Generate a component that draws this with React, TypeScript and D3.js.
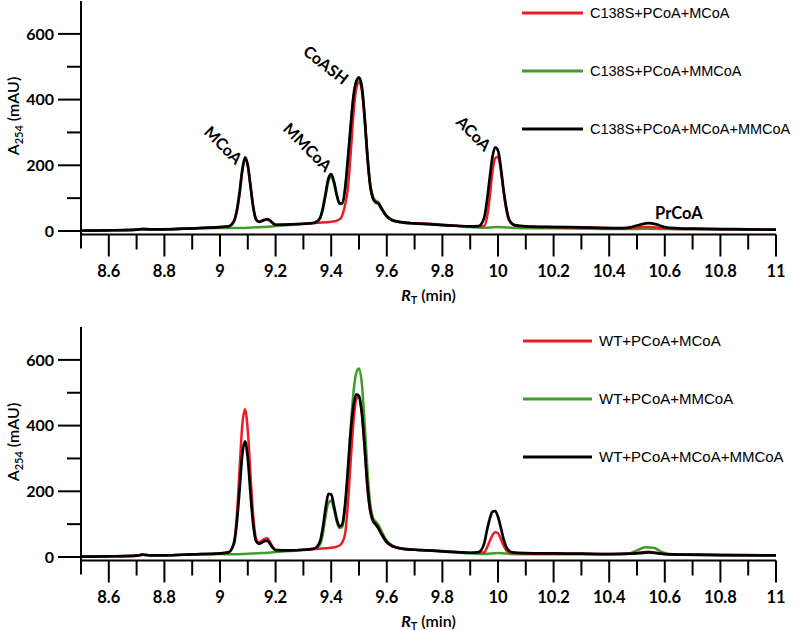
import React from "react";
import * as d3 from "d3";

type Pt = [number, number];

// ---- Top panel (C138S) ----
const topBlack: Pt[] = [
  [8.5, 1], [8.6, 2], [8.7, 4], [8.72, 6], [8.75, 5], [8.8, 5], [8.9, 8], [9.0, 12], [9.03, 14],
  [9.05, 30], [9.06, 60], [9.07, 115], [9.08, 185], [9.09, 224], [9.1, 200], [9.11, 135], [9.12, 70],
  [9.13, 35], [9.14, 28], [9.16, 34], [9.17, 36], [9.18, 32], [9.19, 24], [9.2, 19], [9.25, 20],
  [9.3, 22], [9.34, 25], [9.36, 40], [9.37, 70], [9.38, 115], [9.39, 160], [9.4, 173], [9.41, 150],
  [9.42, 110], [9.43, 84], [9.44, 85], [9.45, 130], [9.46, 220], [9.47, 320], [9.48, 410], [9.49, 455],
  [9.5, 468], [9.51, 440], [9.52, 350], [9.53, 230], [9.54, 140], [9.55, 100], [9.56, 88], [9.57, 84],
  [9.58, 70], [9.6, 45], [9.62, 33], [9.65, 27], [9.7, 23], [9.75, 21], [9.8, 18], [9.85, 16],
  [9.9, 14], [9.93, 15], [9.95, 40], [9.96, 90], [9.97, 160], [9.98, 225], [9.99, 255], [10.0, 245],
  [10.01, 195], [10.02, 125], [10.03, 70], [10.04, 35], [10.06, 18], [10.1, 14], [10.2, 12], [10.3, 11],
  [10.4, 9], [10.45, 9], [10.48, 12], [10.51, 19], [10.54, 24], [10.57, 20], [10.6, 12], [10.65, 8],
  [10.7, 7], [10.8, 6], [10.9, 5], [11.0, 4],
];
const topRed: Pt[] = [
  [8.5, 1], [8.6, 2], [8.7, 4], [8.72, 6], [8.75, 5], [8.8, 5], [8.9, 8], [9.0, 12], [9.03, 14],
  [9.05, 28], [9.06, 58], [9.07, 110], [9.08, 180], [9.09, 220], [9.1, 198], [9.11, 135], [9.12, 70],
  [9.13, 35], [9.14, 28], [9.16, 33], [9.17, 35], [9.18, 31], [9.19, 24], [9.2, 19], [9.25, 20],
  [9.3, 22], [9.35, 25], [9.4, 28], [9.43, 35], [9.44, 48], [9.45, 80], [9.46, 130], [9.47, 235],
  [9.48, 355], [9.49, 432], [9.5, 452], [9.51, 430], [9.52, 345], [9.53, 228], [9.54, 140], [9.55, 100],
  [9.56, 86], [9.57, 82], [9.58, 68], [9.6, 44], [9.62, 33], [9.65, 27], [9.7, 23], [9.75, 22],
  [9.8, 19], [9.85, 16], [9.9, 14], [9.95, 15], [9.96, 40], [9.97, 100], [9.98, 180], [9.99, 222],
  [10.0, 226], [10.01, 185], [10.02, 120], [10.03, 65], [10.04, 32], [10.06, 17], [10.1, 14], [10.2, 12],
  [10.3, 11], [10.4, 9], [10.46, 8], [10.49, 10], [10.52, 12], [10.55, 12], [10.58, 9], [10.62, 7],
  [10.7, 6], [11.0, 4],
];
const topGreen: Pt[] = [
  [8.5, 1], [8.6, 2], [8.7, 4], [8.72, 6], [8.75, 5], [8.8, 5], [8.9, 8], [9.0, 9], [9.05, 9],
  [9.1, 10], [9.15, 12], [9.2, 15], [9.25, 18], [9.3, 21], [9.34, 25], [9.36, 38], [9.37, 65],
  [9.38, 108], [9.39, 150], [9.4, 165], [9.41, 145], [9.42, 108], [9.43, 82], [9.44, 82], [9.45, 125],
  [9.46, 215], [9.47, 315], [9.48, 405], [9.49, 452], [9.5, 462], [9.51, 438], [9.52, 352], [9.53, 235],
  [9.54, 145], [9.55, 105], [9.56, 92], [9.57, 88], [9.58, 72], [9.6, 46], [9.62, 33], [9.65, 27],
  [9.7, 23], [9.75, 21], [9.8, 18], [9.85, 15], [9.9, 12], [9.95, 10], [10.0, 12], [10.05, 10],
  [10.1, 8], [10.2, 8], [10.3, 7], [10.4, 6], [10.5, 6], [10.55, 7], [10.6, 6], [10.7, 5], [11.0, 4],
];

// ---- Bottom panel (WT) ----
const botBlack: Pt[] = [
  [8.5, 1], [8.6, 2], [8.7, 4], [8.72, 7], [8.75, 5], [8.8, 5], [8.9, 8], [9.0, 11], [9.03, 14],
  [9.05, 40], [9.06, 100], [9.07, 200], [9.08, 310], [9.09, 352], [9.1, 300], [9.11, 190], [9.12, 95],
  [9.13, 48], [9.14, 40], [9.16, 48], [9.17, 50], [9.18, 40], [9.19, 28], [9.2, 21], [9.25, 20],
  [9.3, 22], [9.34, 26], [9.36, 48], [9.37, 90], [9.38, 150], [9.39, 192], [9.4, 190], [9.41, 155],
  [9.42, 115], [9.43, 93], [9.44, 100], [9.45, 160], [9.46, 265], [9.47, 380], [9.48, 460], [9.49, 495],
  [9.5, 490], [9.51, 440], [9.52, 340], [9.53, 220], [9.54, 145], [9.55, 112], [9.56, 100], [9.57, 88],
  [9.58, 72], [9.6, 45], [9.62, 33], [9.65, 26], [9.7, 22], [9.75, 20], [9.8, 17], [9.85, 15],
  [9.9, 13], [9.93, 15], [9.95, 40], [9.96, 80], [9.97, 115], [9.98, 138], [9.99, 140], [10.0, 122],
  [10.01, 90], [10.02, 55], [10.03, 30], [10.05, 14], [10.1, 12], [10.2, 11], [10.3, 10], [10.4, 9],
  [10.48, 10], [10.51, 12], [10.54, 14], [10.57, 12], [10.6, 9], [10.7, 7], [10.8, 6], [11.0, 5],
];
const botRed: Pt[] = [
  [8.5, 1], [8.6, 2], [8.7, 4], [8.72, 7], [8.75, 5], [8.8, 5], [8.9, 8], [9.0, 11], [9.03, 14],
  [9.05, 45], [9.06, 120], [9.07, 260], [9.08, 400], [9.09, 450], [9.1, 385], [9.11, 245], [9.12, 120],
  [9.13, 55], [9.14, 45], [9.16, 55], [9.17, 57], [9.18, 45], [9.19, 30], [9.2, 21], [9.25, 20],
  [9.3, 22], [9.35, 25], [9.4, 28], [9.43, 35], [9.44, 45], [9.45, 70], [9.46, 160], [9.47, 290],
  [9.48, 410], [9.49, 480], [9.5, 488], [9.51, 440], [9.52, 335], [9.53, 215], [9.54, 140], [9.55, 108],
  [9.56, 98], [9.57, 86], [9.58, 70], [9.6, 44], [9.62, 33], [9.65, 26], [9.7, 22], [9.75, 20],
  [9.8, 18], [9.85, 15], [9.9, 13], [9.95, 14], [9.96, 28], [9.97, 48], [9.98, 66], [9.99, 75],
  [10.0, 72], [10.01, 55], [10.02, 35], [10.03, 20], [10.05, 13], [10.1, 11], [10.2, 10], [10.3, 10],
  [10.4, 9], [10.48, 11], [10.51, 14], [10.54, 16], [10.57, 13], [10.6, 9], [10.7, 7], [11.0, 5],
];
const botGreen: Pt[] = [
  [8.5, 1], [8.6, 2], [8.7, 4], [8.72, 7], [8.75, 5], [8.8, 5], [8.9, 8], [9.0, 9], [9.05, 8],
  [9.1, 10], [9.15, 12], [9.2, 15], [9.25, 18], [9.3, 21], [9.34, 25], [9.36, 38], [9.37, 70],
  [9.38, 125], [9.39, 165], [9.4, 172], [9.41, 145], [9.42, 108], [9.43, 88], [9.44, 92], [9.45, 150],
  [9.46, 260], [9.47, 390], [9.48, 500], [9.49, 560], [9.5, 574], [9.51, 530], [9.52, 410], [9.53, 270],
  [9.54, 165], [9.55, 120], [9.56, 108], [9.57, 98], [9.58, 80], [9.6, 50], [9.62, 35], [9.65, 27],
  [9.7, 22], [9.75, 20], [9.8, 17], [9.85, 14], [9.9, 11], [9.95, 9], [10.0, 12], [10.05, 9],
  [10.1, 8], [10.2, 8], [10.3, 8], [10.4, 8], [10.47, 10], [10.5, 20], [10.53, 30], [10.56, 28],
  [10.59, 15], [10.63, 8], [10.7, 6], [11.0, 5],
];

const topLegend = ["C138S+PCoA+MCoA", "C138S+PCoA+MMCoA", "C138S+PCoA+MCoA+MMCoA"];
const botLegend = ["WT+PCoA+MCoA", "WT+PCoA+MMCoA", "WT+PCoA+MCoA+MMCoA"];
const xMajorTicks = [8.6, 8.8, 9, 9.2, 9.4, 9.6, 9.8, 10, 10.2, 10.4, 10.6, 10.8, 11];
const xMinorTicks = [8.7, 8.9, 9.1, 9.3, 9.5, 9.7, 9.9, 10.1, 10.3, 10.5, 10.7, 10.9];
const yMajorTicks = [0, 200, 400, 600];
const yMinorTicks = [100, 300, 500];
const peakLabels = [
  { text: "MCoA", x: 8.939, v: 298, rot: 45 },
  { text: "MMCoA", x: 9.223, v: 308, rot: 45 },
  { text: "CoASH", x: 9.295, v: 540, rot: 38 },
  { text: "ACoA", x: 9.845, v: 329, rot: 45 },
];

const COLORS = ["#ec1c24", "#3f9e2a", "#000000"];
const TICKFONT = "Lato, 'Open Sans', sans-serif";
const LEGFONT = "'Liberation Sans', Arial, sans-serif";

const xScale = d3.scaleLinear().domain([8.5, 11]).range([81, 776]);

function Panel({ y0, series, legend, legendX, legendY, legendLine, legendSize, labels, prLabel }: any) {
  const yScale = d3.scaleLinear().domain([0, 700]).range([y0, y0 - 700 * 0.3285]);
  const axisY = y0 + 3.5;
  const line = d3
    .line<Pt>()
    .x((d) => xScale(d[0]))
    .y((d) => yScale(d[1]))
    .curve(d3.curveMonotoneX);
  const x0 = xScale(8.5);
  const order = [1, 0, 2];
  return (
    <g>
      {order.map((i) => (
        <path key={i} d={line(series[i]) || ""} fill="none" stroke={COLORS[i]} strokeWidth={i === 2 ? 2.7 : 2.5} strokeLinejoin="round" />
      ))}
      {/* y axis */}
      <line x1={x0} x2={x0} y1={yScale(700)} y2={axisY + 14} stroke="#000" strokeWidth={2} />
      {yMajorTicks.map((t) => (
        <g key={t}>
          <line x1={x0 - 23} x2={x0} y1={yScale(t)} y2={yScale(t)} stroke="#000" strokeWidth={2} />
          <text x={x0 - 27} y={yScale(t)} dy="0.36em" textAnchor="end" fontFamily={TICKFONT} fontWeight={700} fontSize={16}>
            {t}
          </text>
        </g>
      ))}
      {yMinorTicks.map((t) => (
        <line key={t} x1={x0 - 14} x2={x0} y1={yScale(t)} y2={yScale(t)} stroke="#000" strokeWidth={2} />
      ))}
      {/* x axis */}
      <line x1={x0} x2={xScale(11)} y1={axisY} y2={axisY} stroke="#000" strokeWidth={2} />
      {xMajorTicks.map((t) => (
        <g key={t}>
          <line x1={xScale(t)} x2={xScale(t)} y1={axisY} y2={axisY + 22} stroke="#000" strokeWidth={2} />
          <text x={xScale(t)} y={axisY + 42} textAnchor="middle" fontFamily={TICKFONT} fontWeight={700} fontSize={16.5}>
            {t}
          </text>
        </g>
      ))}
      {xMinorTicks.map((t) => (
        <line key={t} x1={xScale(t)} x2={xScale(t)} y1={axisY} y2={axisY + 15} stroke="#000" strokeWidth={2} />
      ))}
      <text x={(xScale(8.5) + xScale(11)) / 2} y={axisY + 66} textAnchor="middle" fontFamily={TICKFONT} fontSize={16} fontWeight={600}>
        <tspan fontStyle="italic" fontWeight={700}>R</tspan>
        <tspan fontSize={11} dy={3}>T</tspan>
        <tspan dy={-3}> (min)</tspan>
      </text>
      {/* y label */}
      <text
        transform={`translate(19,${(yScale(0) + yScale(700)) / 2}) rotate(-90)`}
        textAnchor="middle"
        fontFamily={TICKFONT}
        fontSize={16}
        fontWeight={600}
      >
        <tspan>A</tspan>
        <tspan fontSize={11} dy={4}>254</tspan>
        <tspan dy={-4}>  (mAU)</tspan>
      </text>
      {/* legend */}
      {legend.map((name: string, i: number) => (
        <g key={name}>
          <line x1={legendX} x2={legendX + legendLine} y1={legendY + i * 58} y2={legendY + i * 58} stroke={COLORS[i]} strokeWidth={2.8} />
          <text x={legendX + legendLine + 7} y={legendY + i * 58} dy="0.36em" fontFamily={LEGFONT} fontSize={legendSize}>
            {name}
          </text>
        </g>
      ))}
      {/* peak labels */}
      {labels &&
        labels.map((l: any) => (
          <text
            key={l.text}
            transform={`translate(${xScale(l.x)},${yScale(l.v)}) rotate(${l.rot})`}
            fontFamily={TICKFONT}
            fontWeight={700}
            fontSize={16}
          >
            {l.text}
          </text>
        ))}
      {prLabel && (
        <text x={xScale(10.565)} y={yScale(36)} fontFamily={TICKFONT} fontWeight={700} fontSize={16.5}>
          {prLabel}
        </text>
      )}
    </g>
  );
}

export default function App() {
  return (
    <svg width={805} height={630} style={{ position: "absolute", left: 0, top: 0, background: "#fff" }}>
      <rect width={805} height={630} fill="#fff" />
      <Panel
        y0={231}
        series={[topRed, topGreen, topBlack]}
        legend={topLegend}
        legendX={522}
        legendY={13}
        legendLine={61}
        legendSize={14.5}
        labels={peakLabels}
        prLabel="PrCoA"
      />
      <Panel
        y0={557}
        series={[botRed, botGreen, botBlack]}
        legend={botLegend}
        legendX={523}
        legendY={341}
        legendLine={69}
        legendSize={15}
      />
    </svg>
  );
}
